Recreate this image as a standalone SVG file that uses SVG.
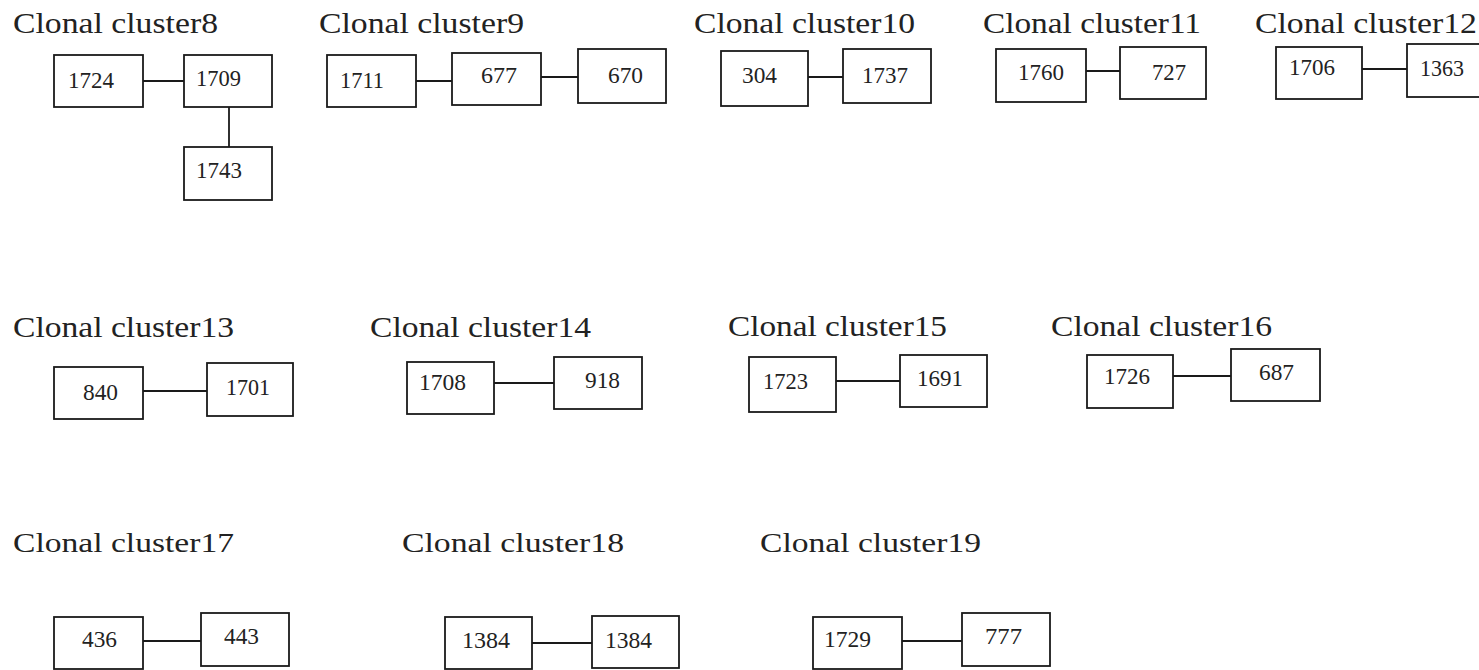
<svg xmlns="http://www.w3.org/2000/svg" width="1479" height="670" viewBox="0 0 1479 670">
<style>
.bg{fill:#fff}
.box{fill:#fff;stroke:#1a1a1a;stroke-width:1.8}
.ln{stroke:#1a1a1a;stroke-width:1.8;fill:none}
.t{font-family:"Liberation Serif","Times New Roman",serif;font-size:29px;fill:#222}
.t3{font-family:"Liberation Serif","Times New Roman",serif;font-size:27px;fill:#222}
.n{font-family:"Liberation Serif","Times New Roman",serif;font-size:24px;fill:#222}
</style>
<rect class="bg" x="0" y="0" width="1479" height="670"/>
<g id="titles">
<text class="t" x="13" y="33" textLength="205" lengthAdjust="spacingAndGlyphs">Clonal cluster8</text>
<text class="t" x="319" y="33" textLength="205" lengthAdjust="spacingAndGlyphs">Clonal cluster9</text>
<text class="t" x="694" y="33" textLength="221" lengthAdjust="spacingAndGlyphs">Clonal cluster10</text>
<text class="t" x="983" y="33" textLength="218" lengthAdjust="spacingAndGlyphs">Clonal cluster11</text>
<text class="t" x="1255" y="33" textLength="222" lengthAdjust="spacingAndGlyphs">Clonal cluster12</text>
<text class="t" x="13" y="337" textLength="221" lengthAdjust="spacingAndGlyphs">Clonal cluster13</text>
<text class="t" x="370" y="337" textLength="221" lengthAdjust="spacingAndGlyphs">Clonal cluster14</text>
<text class="t" x="728" y="336" textLength="219" lengthAdjust="spacingAndGlyphs">Clonal cluster15</text>
<text class="t" x="1051" y="336" textLength="221" lengthAdjust="spacingAndGlyphs">Clonal cluster16</text>
<text class="t3" x="13" y="552" textLength="221" lengthAdjust="spacingAndGlyphs">Clonal cluster17</text>
<text class="t3" x="402" y="552" textLength="222" lengthAdjust="spacingAndGlyphs">Clonal cluster18</text>
<text class="t3" x="760" y="552" textLength="221" lengthAdjust="spacingAndGlyphs">Clonal cluster19</text>
</g>
<g id="connectors">
<line class="ln" x1="143" y1="81" x2="184" y2="81"/>
<line class="ln" x1="229" y1="107" x2="229" y2="147"/>
<line class="ln" x1="416" y1="81" x2="452" y2="81"/>
<line class="ln" x1="541" y1="77" x2="578" y2="77"/>
<line class="ln" x1="808" y1="77" x2="843" y2="77"/>
<line class="ln" x1="1086" y1="71" x2="1120" y2="71"/>
<line class="ln" x1="1362" y1="69" x2="1407" y2="69"/>
<line class="ln" x1="143" y1="391" x2="207" y2="391"/>
<line class="ln" x1="494" y1="383" x2="554" y2="383"/>
<line class="ln" x1="836" y1="381" x2="900" y2="381"/>
<line class="ln" x1="1173" y1="376" x2="1231" y2="376"/>
<line class="ln" x1="143" y1="641" x2="201" y2="641"/>
<line class="ln" x1="532" y1="643" x2="592" y2="643"/>
<line class="ln" x1="902" y1="641" x2="962" y2="641"/>
</g>
<g id="n1724"><rect class="box" x="54" y="55" width="89" height="52"/><text class="n" x="68" y="88" textLength="46" lengthAdjust="spacingAndGlyphs">1724</text></g>
<g id="n1709"><rect class="box" x="184" y="55" width="88" height="52"/><text class="n" x="196" y="86" textLength="45" lengthAdjust="spacingAndGlyphs">1709</text></g>
<g id="n1743"><rect class="box" x="184" y="147" width="88" height="53"/><text class="n" x="196" y="178" textLength="46" lengthAdjust="spacingAndGlyphs">1743</text></g>
<g id="n1711"><rect class="box" x="327" y="55" width="89" height="52"/><text class="n" x="340" y="88" textLength="44" lengthAdjust="spacingAndGlyphs">1711</text></g>
<g id="n677"><rect class="box" x="452" y="53" width="89" height="52"/><text class="n" x="481" y="83" textLength="36" lengthAdjust="spacingAndGlyphs">677</text></g>
<g id="n670"><rect class="box" x="578" y="49" width="88" height="54"/><text class="n" x="608" y="83" textLength="35" lengthAdjust="spacingAndGlyphs">670</text></g>
<g id="n304"><rect class="box" x="721" y="51" width="87" height="55"/><text class="n" x="742" y="83" textLength="35" lengthAdjust="spacingAndGlyphs">304</text></g>
<g id="n1737"><rect class="box" x="843" y="49" width="88" height="54"/><text class="n" x="862" y="83" textLength="46" lengthAdjust="spacingAndGlyphs">1737</text></g>
<g id="n1760"><rect class="box" x="996" y="49" width="90" height="53"/><text class="n" x="1018" y="80" textLength="46" lengthAdjust="spacingAndGlyphs">1760</text></g>
<g id="n727"><rect class="box" x="1120" y="47" width="86" height="52"/><text class="n" x="1152" y="80" textLength="34" lengthAdjust="spacingAndGlyphs">727</text></g>
<g id="n1706"><rect class="box" x="1276" y="47" width="86" height="52"/><text class="n" x="1289" y="75" textLength="46" lengthAdjust="spacingAndGlyphs">1706</text></g>
<g id="n1363"><rect class="box" x="1407" y="44" width="90" height="53"/><text class="n" x="1420" y="76" textLength="44" lengthAdjust="spacingAndGlyphs">1363</text></g>
<g id="n840"><rect class="box" x="54" y="367" width="89" height="52"/><text class="n" x="83" y="400" textLength="35" lengthAdjust="spacingAndGlyphs">840</text></g>
<g id="n1701"><rect class="box" x="207" y="363" width="86" height="53"/><text class="n" x="226" y="395" textLength="44" lengthAdjust="spacingAndGlyphs">1701</text></g>
<g id="n1708"><rect class="box" x="407" y="362" width="87" height="52"/><text class="n" x="419" y="390" textLength="47" lengthAdjust="spacingAndGlyphs">1708</text></g>
<g id="n918"><rect class="box" x="554" y="357" width="88" height="52"/><text class="n" x="585" y="388" textLength="35" lengthAdjust="spacingAndGlyphs">918</text></g>
<g id="n1723"><rect class="box" x="749" y="357" width="87" height="55"/><text class="n" x="763" y="389" textLength="45" lengthAdjust="spacingAndGlyphs">1723</text></g>
<g id="n1691"><rect class="box" x="900" y="355" width="87" height="52"/><text class="n" x="917" y="386" textLength="46" lengthAdjust="spacingAndGlyphs">1691</text></g>
<g id="n1726"><rect class="box" x="1087" y="355" width="86" height="53"/><text class="n" x="1104" y="384" textLength="46" lengthAdjust="spacingAndGlyphs">1726</text></g>
<g id="n687"><rect class="box" x="1231" y="349" width="89" height="52"/><text class="n" x="1259" y="380" textLength="35" lengthAdjust="spacingAndGlyphs">687</text></g>
<g id="n436"><rect class="box" x="54" y="617" width="89" height="52"/><text class="n" x="82" y="647" textLength="35" lengthAdjust="spacingAndGlyphs">436</text></g>
<g id="n443"><rect class="box" x="201" y="613" width="88" height="53"/><text class="n" x="224" y="644" textLength="35" lengthAdjust="spacingAndGlyphs">443</text></g>
<g id="n1384a"><rect class="box" x="445" y="617" width="87" height="52"/><text class="n" x="462" y="648" textLength="48" lengthAdjust="spacingAndGlyphs">1384</text></g>
<g id="n1384b"><rect class="box" x="592" y="616" width="87" height="52"/><text class="n" x="605" y="648" textLength="47" lengthAdjust="spacingAndGlyphs">1384</text></g>
<g id="n1729"><rect class="box" x="813" y="617" width="89" height="52"/><text class="n" x="824" y="647" textLength="47" lengthAdjust="spacingAndGlyphs">1729</text></g>
<g id="n777"><rect class="box" x="962" y="613" width="88" height="53"/><text class="n" x="985" y="644" textLength="37" lengthAdjust="spacingAndGlyphs">777</text></g>
</svg>
